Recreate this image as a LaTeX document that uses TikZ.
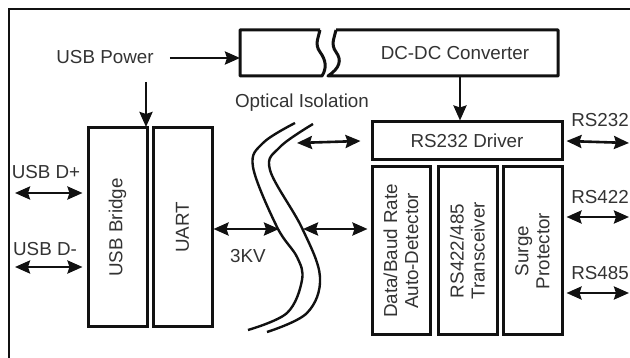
\documentclass[tikz,border=0pt]{standalone}
\usepackage{fontspec}
\setmainfont{Liberation Sans}
\usetikzlibrary{arrows.meta}
\definecolor{txt}{HTML}{333333}
\definecolor{ink}{HTML}{111111}
\begin{document}
\begin{tikzpicture}[x=1pt,y=1pt,
  >={Stealth[length=15pt,width=13pt,inset=2pt]},
  lbl/.style={text=txt,font=\fontsize{18.8}{21}\selectfont,inner sep=0pt},
  blk/.style={draw=ink,line width=3pt,inner sep=0pt,text=txt,font=\fontsize{18.8}{21}\selectfont,align=center},
  vblk/.style={blk,rotate=90},
  conn/.style={draw=ink,line width=2.6pt,->},
  biconn/.style={draw=ink,line width=2.6pt,<->},
  iso/.style={draw=ink,line width=2.4pt}]
\useasboundingbox (0,-358) rectangle (630,0);
\fill[white] (0,-358) rectangle (630,0);
% outer frame (cropped at right and bottom)
\draw[ink,line width=2.6pt] (9,-358) -- (9,-9) -- (630,-9);

% DC-DC converter with break
\draw[ink,line width=3pt,line join=round]
  (320,-30) -- (240,-30) -- (240,-76) -- (322,-76)
  .. controls (327,-68) and (326,-60) .. (320,-52)
  .. controls (314,-44) and (319,-36) .. (320,-30);
\draw[ink,line width=3pt,line join=round]
  (336,-30) -- (558,-30) -- (558,-76) -- (328,-76)
  .. controls (340,-68) and (342,-60) .. (336,-52)
  .. controls (330,-44) and (335,-36) .. (336,-30);
\node[lbl] (dcdc) at (455,-53) {DC-DC Converter};
\coordinate (dcdcin) at (240,-58);
\coordinate (dcdcout) at (460,-77);

% USB power
\node[lbl] (usbpow) at (105,-57) {USB Power};
\coordinate (powdown) at (146,-82);
\coordinate (powend) at (146,-127);

% left blocks
\node[vblk,minimum width=199pt,minimum height=59pt] (bridge) at (117.5,-227.5) {USB Bridge};
\node[vblk,minimum width=199pt,minimum height=59pt] (uart) at (182.5,-227.5) {UART};

% right blocks
\node[blk,minimum width=190pt,minimum height=38pt] (drv) at (467,-141) {RS232 Driver};
\node[vblk,minimum width=168pt,minimum height=58pt] (baud) at (401,-251) {Data/Baud Rate\\Auto-Detector};
\node[vblk,minimum width=168pt,minimum height=59pt] (xcvr) at (467.5,-251) {RS422/485\\Transceiver};
\node[vblk,minimum width=168pt,minimum height=59pt] (surge) at (532.5,-251) {Surge\\Protector};

% optical isolation
\node[lbl] (opt) at (302,-103) {Optical Isolation};
\node[lbl] (kv) at (248,-256) {3KV};
\draw[iso] plot[smooth,tension=0.6] coordinates {(295,-123) (263,-143) (253,-167) (277,-227) (297,-257) (302,-280) (287,-313) (248,-330)};
\draw[iso] plot[smooth,tension=0.6] coordinates {(313,-124) (280,-147) (270,-170) (302,-228) (320,-277) (307,-313) (267,-332)};
\coordinate (isoL) at (279,-229);
\coordinate (isoR) at (303,-229);
\coordinate (isoT) at (297,-143);

% external labels
\node[lbl] (dp) at (46,-172) {USB D+};
\node[lbl] (dm) at (45,-249) {USB D-};
\node[lbl] (r232) at (600,-120) {RS232};
\node[lbl] (r422) at (600,-197) {RS422};
\node[lbl] (r485) at (600,-273) {RS485};
\coordinate (dpL) at (15,-193);
\coordinate (dmL) at (15,-267);
\coordinate (r232R) at (629,-143);
\coordinate (r422R) at (629,-217);
\coordinate (r485R) at (629,-293);

% connectors
\draw[conn] (usbpow.east) ++(16,-1) -- (dcdcin);
\draw[conn] (powdown) -- (powend);
\draw[conn] (dcdcout) -- (drv.north -| dcdcout);
\draw[biconn] (dpL) -- ([xshift=-4pt]bridge.north |- dpL);
\draw[biconn] (dmL) -- ([xshift=-4pt]bridge.north |- dmL);
\draw[biconn] (uart.south |- isoL) -- (isoL);
\draw[biconn] (isoR) -- ([xshift=-3pt]baud.north |- isoR);
\draw[biconn] (isoT) -- ([xshift=-10pt]drv.west);
\draw[biconn] ([xshift=3pt]drv.east) -- (r232R);
\draw[biconn] ([xshift=3pt]surge.south |- r422R) -- (r422R);
\draw[biconn] ([xshift=3pt]surge.south |- r485R) -- (r485R);
\end{tikzpicture}
\end{document}
